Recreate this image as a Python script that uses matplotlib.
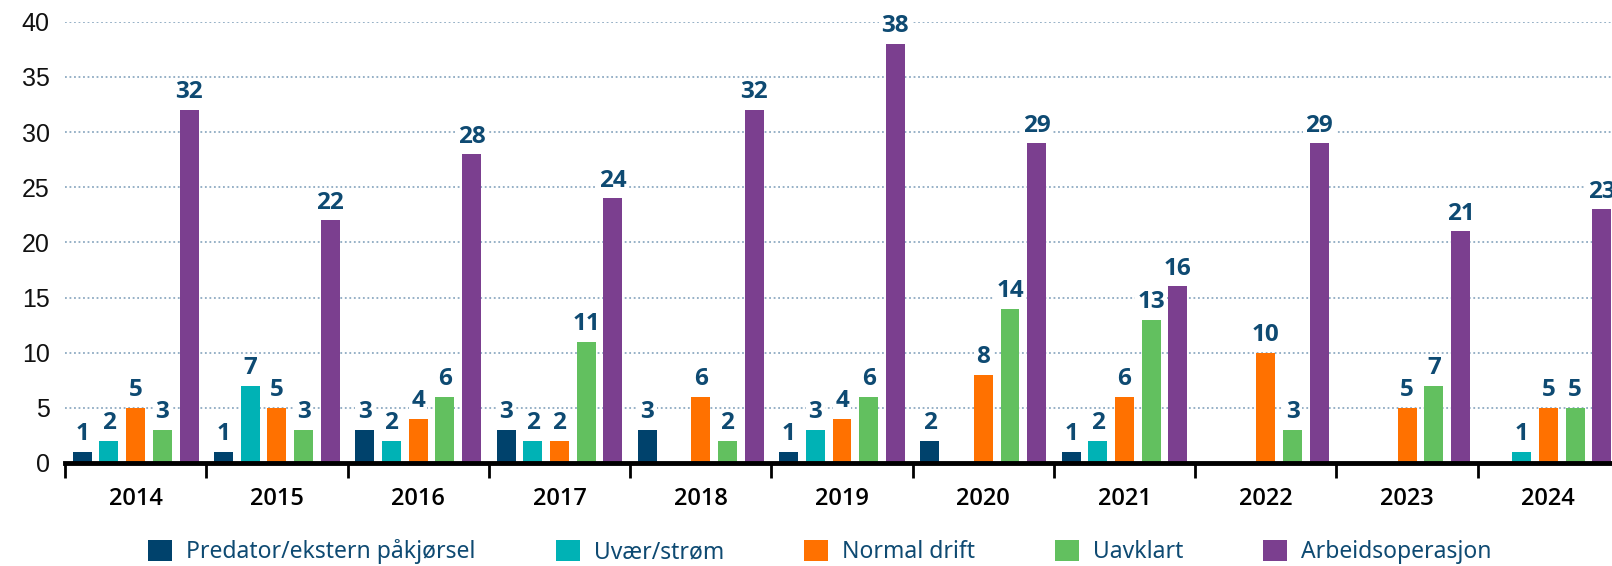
import matplotlib.pyplot as plt
import numpy as np

years = ["2014", "2015", "2016", "2017", "2018", "2019", "2020", "2021", "2022", "2023", "2024"]
categories = ["Predator/ekstern påkjørsel", "Uvær/strøm", "Normal drift", "Uavklart", "Arbeidsoperasjon"]
predator = [1, 1, 3, 3, 3, 1, 2, 1, 0, 0, 0]
uvaer = [2, 7, 2, 2, 0, 3, 0, 2, 0, 0, 1]
normal = [5, 5, 4, 2, 6, 4, 8, 6, 10, 5, 5]
uavklart = [3, 3, 6, 11, 2, 6, 14, 13, 3, 7, 5]
arbeid = [32, 22, 28, 24, 32, 38, 29, 16, 29, 21, 23]
series = [predator, uvaer, normal, uavklart, arbeid]
colors = ["#00426c", "#00b2b5", "#ff7100", "#62c05f", "#7b3f8f"]

label_color = "#0e4a72"

fig = plt.figure(figsize=(16.12, 5.66), dpi=100)
ax = fig.add_axes([65 / 1612, 103 / 566, (1619 - 65) / 1612, (463 - 21.7) / 566])

x = np.arange(len(years))
pitch = 0.189
width = 0.134
for i, (vals, col, name) in enumerate(zip(series, colors, categories)):
    vals = np.array(vals, dtype=float)
    pos = x + (i - 2) * pitch
    h = np.where(vals > 0, vals, np.nan)
    ax.bar(pos, h, width, color=col, label=name, zorder=3)
    for p, v in zip(pos, vals):
        if v > 0:
            ax.annotate(f"{int(v)}", (p, v), xytext=(0, 4), textcoords="offset points",
                        ha="center", va="bottom", fontsize=17.5, fontweight="bold",
                        color=label_color, family="Open Sans", zorder=4,
                        bbox=dict(boxstyle="square,pad=0.1", fc="white", ec="none"))

ax.set_xlim(-0.5, len(years) - 0.5)
ax.set_ylim(0, 40)
ax.set_yticks(range(0, 41, 5))
ax.tick_params(axis="y", length=0, pad=11, labelsize=18, labelcolor="#111111")
for t in ax.get_yticklabels():
    t.set_family("Liberation Sans")

ax.set_xticks(np.arange(len(years) + 1) - 0.5)
ax.set_xticklabels([])
ax.set_xticks(x, minor=True)
ax.set_xticklabels(years, minor=True, fontsize=17, fontweight="semibold", family="Open Sans")
ax.tick_params(axis="x", which="major", length=11, width=2, color="black")
ax.tick_params(axis="x", which="minor", length=0, pad=17)

ax.grid(axis="y", linestyle=(0, (1, 1.5)), color="#8eaac2", linewidth=1.3, zorder=0)
for s in ["top", "right", "left"]:
    ax.spines[s].set_visible(False)
ax.spines["bottom"].set_linewidth(3.5)
ax.spines["bottom"].set_zorder(5)

leg = fig.legend(loc="center", bbox_to_anchor=(820 / 1612, 14 / 566), ncol=5, frameon=False,
                 handlelength=1.05, handleheight=1.05, handletextpad=0.6,
                 columnspacing=3.5, borderpad=0, prop={"family": "Noto Sans", "size": 16.5})
for t in leg.get_texts():
    t.set_color(label_color)

fig.savefig("out.png", dpi=100)
